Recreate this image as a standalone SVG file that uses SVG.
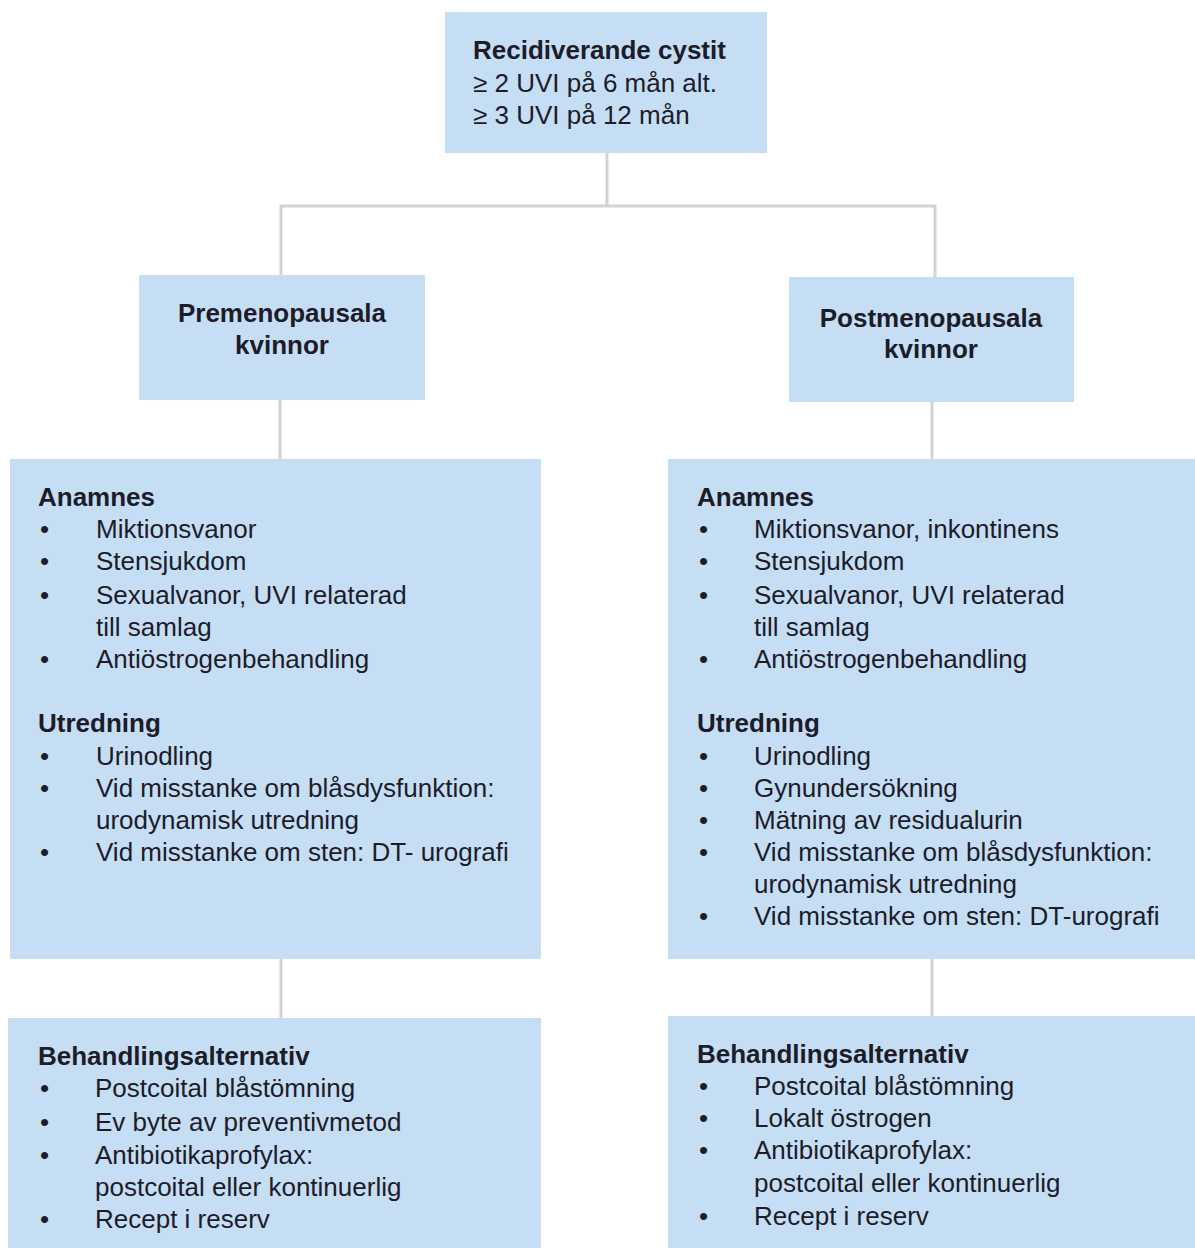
<svg xmlns="http://www.w3.org/2000/svg" width="1195" height="1248" viewBox="0 0 1195 1248">
<style>
.box{fill:#c6def3}
.t{font-family:"Liberation Sans",Arial,sans-serif;font-size:26px;fill:#1c1c2a}
.b{font-weight:bold}
.c{text-anchor:middle}
.ln{stroke:#d3d3d3;stroke-width:3;fill:none}
</style>
<rect width="1195" height="1248" fill="#ffffff"/>
<g id="connectors">
<path class="ln" d="M607 153 V206 M281 206 H935 M281 204.5 V275 M935 204.5 V277 M280 400 V459 M932 402 V459 M281 959 V1018 M932 959 V1016"/>
</g>
<g id="top">
<rect class="box" x="445" y="12" width="322" height="141"/>
<text class="t b" x="473" y="59">Recidiverande cystit</text>
<text class="t" x="473" y="92">≥ 2 UVI på 6 mån alt.</text>
<text class="t" x="473" y="124">≥ 3 UVI på 12 mån</text>
</g>
<g id="pre">
<rect class="box" x="139" y="275" width="286" height="125"/>
<text class="t b c" x="282" y="322">Premenopausala</text>
<text class="t b c" x="282" y="354">kvinnor</text>
</g>
<g id="post">
<rect class="box" x="789" y="277" width="285" height="125"/>
<text class="t b c" x="931" y="327">Postmenopausala</text>
<text class="t b c" x="931" y="358">kvinnor</text>
</g>
<g id="pre-utredning">
<rect class="box" x="10" y="459" width="531" height="500"/>
<text class="t b" x="38" y="506">Anamnes</text>
<text class="t" x="40" y="538">•</text><text class="t" x="96" y="538">Miktionsvanor</text>
<text class="t" x="40" y="570">•</text><text class="t" x="96" y="570">Stensjukdom</text>
<text class="t" x="40" y="604">•</text><text class="t" x="96" y="604">Sexualvanor, UVI relaterad</text>
<text class="t" x="96" y="636">till samlag</text>
<text class="t" x="40" y="668">•</text><text class="t" x="96" y="668">Antiöstrogenbehandling</text>
<text class="t b" x="38" y="732">Utredning</text>
<text class="t" x="40" y="765">•</text><text class="t" x="96" y="765">Urinodling</text>
<text class="t" x="40" y="797">•</text><text class="t" x="96" y="797">Vid misstanke om blåsdysfunktion:</text>
<text class="t" x="96" y="829">urodynamisk utredning</text>
<text class="t" x="40" y="861">•</text><text class="t" x="96" y="861">Vid misstanke om sten: DT- urografi</text>
</g>
<g id="post-utredning">
<rect class="box" x="668" y="459" width="527" height="500"/>
<text class="t b" x="697" y="506">Anamnes</text>
<text class="t" x="699" y="538">•</text><text class="t" x="754" y="538">Miktionsvanor, inkontinens</text>
<text class="t" x="699" y="570">•</text><text class="t" x="754" y="570">Stensjukdom</text>
<text class="t" x="699" y="604">•</text><text class="t" x="754" y="604">Sexualvanor, UVI relaterad</text>
<text class="t" x="754" y="636">till samlag</text>
<text class="t" x="699" y="668">•</text><text class="t" x="754" y="668">Antiöstrogenbehandling</text>
<text class="t b" x="697" y="732">Utredning</text>
<text class="t" x="699" y="765">•</text><text class="t" x="754" y="765">Urinodling</text>
<text class="t" x="699" y="797">•</text><text class="t" x="754" y="797">Gynundersökning</text>
<text class="t" x="699" y="829">•</text><text class="t" x="754" y="829">Mätning av residualurin</text>
<text class="t" x="699" y="861">•</text><text class="t" x="754" y="861">Vid misstanke om blåsdysfunktion:</text>
<text class="t" x="754" y="893">urodynamisk utredning</text>
<text class="t" x="699" y="925">•</text><text class="t" x="754" y="925">Vid misstanke om sten: DT-urografi</text>
</g>
<g id="pre-behandling">
<rect class="box" x="8" y="1018" width="533" height="230"/>
<text class="t b" x="38" y="1065">Behandlingsalternativ</text>
<text class="t" x="40" y="1097">•</text><text class="t" x="95" y="1097">Postcoital blåstömning</text>
<text class="t" x="40" y="1131">•</text><text class="t" x="95" y="1131">Ev byte av preventivmetod</text>
<text class="t" x="40" y="1164">•</text><text class="t" x="95" y="1164">Antibiotikaprofylax:</text>
<text class="t" x="95" y="1196">postcoital eller kontinuerlig</text>
<text class="t" x="40" y="1228">•</text><text class="t" x="95" y="1228">Recept i reserv</text>
</g>
<g id="post-behandling">
<rect class="box" x="668" y="1016" width="527" height="232"/>
<text class="t b" x="697" y="1063">Behandlingsalternativ</text>
<text class="t" x="699" y="1095">•</text><text class="t" x="754" y="1095">Postcoital blåstömning</text>
<text class="t" x="699" y="1127">•</text><text class="t" x="754" y="1127">Lokalt östrogen</text>
<text class="t" x="699" y="1159">•</text><text class="t" x="754" y="1159">Antibiotikaprofylax:</text>
<text class="t" x="754" y="1192">postcoital eller kontinuerlig</text>
<text class="t" x="699" y="1225">•</text><text class="t" x="754" y="1225">Recept i reserv</text>
</g>
</svg>
